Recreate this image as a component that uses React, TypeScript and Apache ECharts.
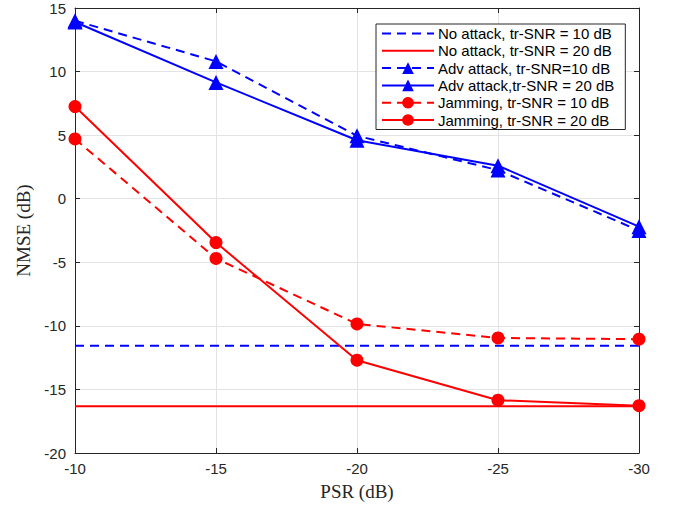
import React, { useEffect, useRef } from "react";
import * as echarts from "echarts";

const psr = [-10, -15, -20, -25, -30];
const noAttack10 = [-11.57, -11.57];
const noAttack20 = [-16.33, -16.33];
const adv10 = [14.0, 10.8, 4.95, 2.25, -2.5];
const adv20 = [13.9, 9.15, 4.6, 2.6, -2.2];
const jam10 = [4.7, -4.7, -9.85, -10.95, -11.05];
const jam20 = [7.25, -3.45, -12.7, -15.85, -16.28];
const yTicks = [-20, -15, -10, -5, 0, 5, 10, 15];
const legendNames = [
  "No attack, tr-SNR = 10 dB",
  "No attack, tr-SNR = 20 dB",
  "Adv attack, tr-SNR=10 dB",
  "Adv attack,tr-SNR = 20 dB",
  "Jamming, tr-SNR = 10 dB",
  "Jamming, tr-SNR = 20 dB",
];

const BLUE = "#0000ff";
const RED = "#ff0000";
const DASH = [9, 6];
const AXIS = "#262626";
const FONT = "Liberation Sans, Arial, Helvetica, sans-serif";
const SERIF = "Liberation Serif, Times New Roman, serif";

function pairs(xs: number[], ys: number[]) {
  return ys.map((y, i) => [xs[i], y]);
}

export default function App() {
  const ref = useRef<HTMLDivElement>(null);
  useEffect(() => {
    if (!ref.current) return;
    const chart = echarts.init(ref.current, null, { renderer: "svg" });
    const flatX = [psr[0], psr[psr.length - 1]];
    const mk = (
      name: string,
      data: number[][],
      color: string,
      dashed: boolean,
      symbol: string,
      size: number
    ) => ({
      name,
      type: "line",
      data,
      symbol,
      symbolSize: size,
      showSymbol: size > 0,
      itemStyle: { color },
      lineStyle: { color, width: 2, type: dashed ? DASH : "solid" },
      emphasis: { disabled: true },
    });
    const sharedX = {
      type: "value",
      inverse: true,
      min: -30,
      max: -10,
      interval: 5,
      axisLine: { show: true, onZero: false, lineStyle: { color: AXIS, width: 1 } },
      axisTick: { show: true, inside: true, length: 5, lineStyle: { color: AXIS } },
    };
    const sharedY = {
      type: "value",
      min: yTicks[0],
      max: yTicks[yTicks.length - 1],
      interval: 5,
      axisLine: { show: true, onZero: false, lineStyle: { color: AXIS, width: 1 } },
      axisTick: { show: true, inside: true, length: 5, lineStyle: { color: AXIS } },
    };
    chart.setOption({
      animation: false,
      backgroundColor: "#ffffff",
      grid: { left: 75, right: 37, top: 8, bottom: 52, containLabel: false },
      legend: {
        orient: "vertical",
        left: 376,
        top: 24,
        padding: [2, 11, 2, 5],
        itemGap: 2.3,
        itemWidth: 52,
        itemHeight: 14.5,
        backgroundColor: "#ffffff",
        borderColor: AXIS,
        borderWidth: 1,
        borderRadius: 0,
        data: legendNames.map((n, i) =>
          i < 2 ? { name: n, itemStyle: { opacity: 0 } } : { name: n }
        ),
        textStyle: { fontFamily: FONT, fontSize: 15, color: "#000", padding: [0, 0, 0, -1] },
      },
      xAxis: [
        {
          ...sharedX,
          name: "PSR (dB)",
          nameLocation: "middle",
          nameGap: 29,
          nameTextStyle: { fontFamily: SERIF, fontSize: 19, color: AXIS },
          axisLabel: { fontFamily: FONT, fontSize: 15, color: AXIS, margin: 8 },
          splitLine: { show: true, lineStyle: { color: "#e3e3e3", width: 1 } },
        },
        {
          ...sharedX,
          position: "top",
          axisLabel: { show: false },
          splitLine: { show: false },
        },
      ],
      yAxis: [
        {
          ...sharedY,
          name: "NMSE (dB)",
          nameLocation: "middle",
          nameGap: 39,
          nameTextStyle: { fontFamily: SERIF, fontSize: 19, color: AXIS },
          axisLabel: { fontFamily: FONT, fontSize: 15, color: AXIS, margin: 9 },
          splitLine: { show: true, lineStyle: { color: "#e3e3e3", width: 1 } },
        },
        {
          ...sharedY,
          position: "right",
          axisLabel: { show: false },
          splitLine: { show: false },
        },
      ],
      series: [
        mk(legendNames[0], pairs(flatX, noAttack10), BLUE, true, "circle", 0),
        mk(legendNames[1], pairs(flatX, noAttack20), RED, false, "circle", 0),
        mk(legendNames[2], pairs(psr, adv10), BLUE, true, "triangle", 15),
        mk(legendNames[3], pairs(psr, adv20), BLUE, false, "triangle", 15),
        mk(legendNames[4], pairs(psr, jam10), RED, true, "circle", 13),
        mk(legendNames[5], pairs(psr, jam20), RED, false, "circle", 13),
      ],
    });
    return () => chart.dispose();
  }, []);
  return (
    <div
      ref={ref}
      style={{ position: "fixed", left: 0, top: 0, width: 676, height: 506, background: "#fff" }}
    />
  );
}
